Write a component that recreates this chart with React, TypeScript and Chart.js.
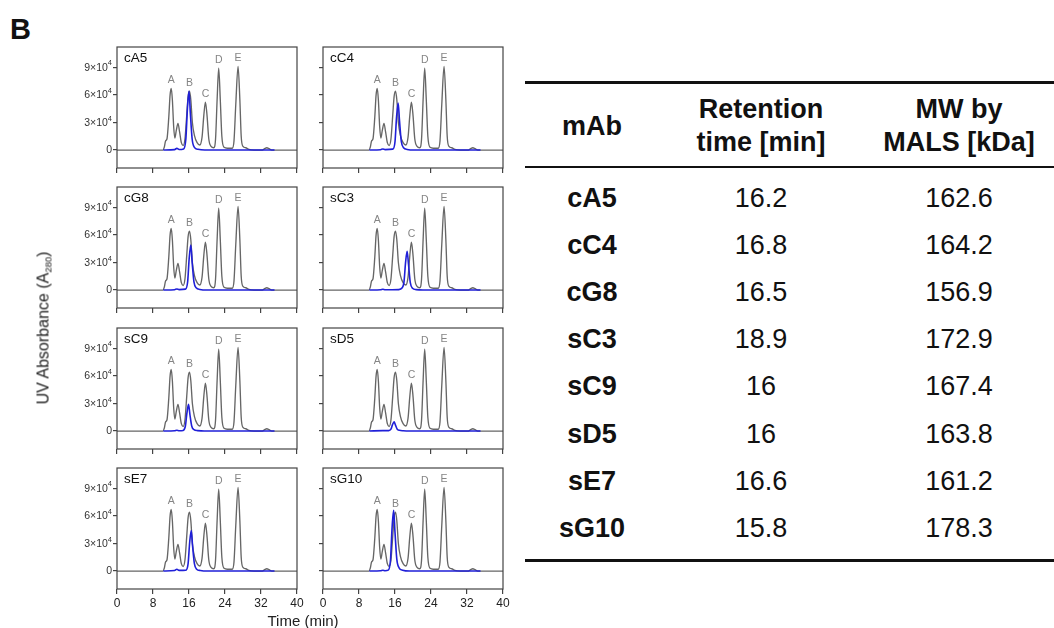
import React, { useEffect, useRef } from 'react';
import { Chart, registerables } from 'chart.js';

Chart.register(...registerables);

const FONT = '"Liberation Sans", Arial, Helvetica, sans-serif';

// ---------- data ----------
const panelNames = ['cA5', 'cC4', 'cG8', 'sC3', 'sC9', 'sD5', 'sE7', 'sG10'];
const retentionTimes = ['16.2', '16.8', '16.5', '18.9', '16', '16', '16.6', '15.8'];
const mwByMals = ['162.6', '164.2', '156.9', '172.9', '167.4', '163.8', '161.2', '178.3'];
const headerLines = [['mAb'], ['Retention', 'time [min]'], ['MW by', 'MALS [kDa]']];

const yTickValues = [0, 30000, 60000, 90000];
const yTickMantissa = ['0', '3×10', '6×10', '9×10'];
const yTickExponent = ['', '4', '4', '4'];

const peakLetters = ['A', 'B', 'C', 'D', 'E'];
const peakTimes = [12.05, 16.1, 19.65, 22.6, 26.9];
const peakHeights = [67000, 64000, 52000, 89000, 91000];

// grey standard trace (min, absorbance)
const standardTime = [0, 10.2, 10.5, 10.8, 11.1, 11.5, 11.8, 12.05, 12.3, 12.6, 12.85, 13.2, 13.55, 13.9, 14.3, 14.7, 15.1, 15.5, 15.8, 16.1, 16.4, 16.75, 17.2, 17.8, 18.4, 18.9, 19.3, 19.65, 20.0, 20.4, 20.9, 21.5, 21.9, 22.25, 22.6, 22.95, 23.3, 23.8, 24.5, 25.6, 26.0, 26.4, 26.9, 27.3, 27.6, 28.0, 28.6, 29.3, 30.5, 32.3, 32.8, 33.3, 33.8, 34.4, 40];
const standardAbs = [0, 0, 3000, 10000, 12000, 35000, 60000, 67000, 55000, 25000, 13000, 22000, 29000, 20000, 8000, 5000, 12000, 38000, 58000, 64000, 55000, 30000, 16000, 8000, 5500, 14000, 38000, 52000, 38000, 12000, 4000, 2500, 12000, 55000, 89000, 55000, 15000, 3000, 2000, 2000, 10000, 50000, 91000, 55000, 15000, 4000, 2500, 800, 0, 0, 1500, 2500, 1500, 0, 0];

// blue mAb traces
const cA5Time = [10.3, 12.8, 13.3, 13.8, 14.8, 15.3, 15.65, 16.0, 16.3, 16.7, 17.2, 18.0, 19.5, 35];
const cA5Abs = [0, 500, 1800, 600, 1200, 12000, 45000, 64000, 40000, 12000, 3000, 800, 0, 0];
const cC4Time = [10.3, 12.8, 13.3, 13.8, 15.5, 16.0, 16.35, 16.7, 17.0, 17.4, 17.9, 18.7, 20.2, 35];
const cC4Abs = [0, 400, 1200, 500, 1000, 9000, 36000, 51000, 32000, 9500, 2500, 700, 0, 0];
const cG8Time = [10.3, 12.8, 13.3, 13.8, 15.2, 15.7, 16.05, 16.4, 16.7, 17.1, 17.6, 18.4, 19.9, 35];
const cG8Abs = [0, 400, 1200, 500, 1000, 9000, 35000, 49000, 30000, 9000, 2400, 700, 0, 0];
const sC3Time = [10.3, 12.8, 13.3, 13.8, 16.8, 17.6, 18.0, 18.35, 18.7, 19.0, 19.4, 19.9, 20.7, 22.2, 35];
const sC3Abs = [0, 300, 800, 300, 500, 2500, 9000, 30000, 42000, 28000, 8000, 2000, 500, 0, 0];
const sC9Time = [10.3, 12.8, 13.3, 13.8, 14.7, 15.2, 15.55, 15.9, 16.2, 16.6, 17.1, 17.9, 19.4, 35];
const sC9Abs = [0, 300, 900, 400, 700, 5500, 20000, 29000, 18000, 5500, 1500, 500, 0, 0];
const sD5Time = [10.3, 13.3, 14.6, 15.1, 15.45, 15.8, 16.1, 16.5, 17.0, 17.8, 19.3, 35];
const sD5Abs = [0, 500, 500, 2000, 7000, 10000, 6500, 2000, 800, 300, 0, 0];
const sE7Time = [10.3, 12.8, 13.3, 13.8, 15.3, 15.8, 16.15, 16.5, 16.8, 17.2, 17.7, 18.5, 20, 35];
const sE7Abs = [0, 600, 2000, 700, 900, 8000, 31000, 44000, 27000, 8000, 2000, 600, 0, 0];
const sG10Time = [10.3, 12.8, 13.3, 13.8, 14.5, 15.0, 15.35, 15.7, 16.0, 16.4, 16.9, 17.7, 19.2, 35];
const sG10Abs = [0, 300, 900, 400, 1000, 12000, 47000, 66000, 42000, 13000, 3500, 900, 0, 0];

const blueTimes = [cA5Time, cC4Time, cG8Time, sC3Time, sC9Time, sD5Time, sE7Time, sG10Time];
const blueAbs = [cA5Abs, cC4Abs, cG8Abs, sC3Abs, sC9Abs, sD5Abs, sE7Abs, sG10Abs];

// ---------- layout ----------
const FRAME_W = 180;
const FRAME_H = 121;
const FRAME_LEFT = [117, 323];
const FRAME_TOP = [47, 187, 328, 468];
const PAD_T = 8;
const PAD_R = 10;
const Y_W = [72, 12];

function Panel({ index }: { index: number }) {
  const ref = useRef<HTMLCanvasElement | null>(null);
  const row = Math.floor(index / 2);
  const col = index % 2;
  const isBottom = row === 3;
  const xH = isBottom ? 30 : 8;
  const yW = Y_W[col];
  const width = yW + FRAME_W + PAD_R;
  const height = PAD_T + FRAME_H + xH;
  const left = FRAME_LEFT[col] - yW;
  const top = FRAME_TOP[row] - PAD_T;

  useEffect(() => {
    if (!ref.current) return;
    const name = panelNames[index];
    const overlay = {
      id: 'overlay' + index,
      afterDatasetsDraw(chart: any) {
        const { ctx, chartArea: a, scales } = chart;
        ctx.save();
        ctx.strokeStyle = '#444';
        ctx.lineWidth = 1.2;
        ctx.strokeRect(a.left, a.top, a.right - a.left, a.bottom - a.top);
        // peak letters
        ctx.fillStyle = '#858585';
        ctx.font = `10.5px ${FONT}`;
        ctx.textAlign = 'center';
        ctx.textBaseline = 'alphabetic';
        peakLetters.forEach((L, i) => {
          const px = scales.x.getPixelForValue(peakTimes[i]);
          const py = scales.y.getPixelForValue(peakHeights[i]);
          ctx.fillText(L, px, py - 5);
        });
        // panel name
        ctx.fillStyle = '#111';
        ctx.font = `13.5px ${FONT}`;
        ctx.textAlign = 'left';
        ctx.textBaseline = 'middle';
        ctx.fillText(name, a.left + 7, a.top + 11);
        // y tick labels with superscripts (left column only)
        if (col === 0) {
          ctx.fillStyle = '#333';
          yTickValues.forEach((v, i) => {
            const py = scales.y.getPixelForValue(v);
            const xr = a.left - 5;
            ctx.textBaseline = 'middle';
            ctx.textAlign = 'right';
            let expW = 0;
            if (yTickExponent[i]) {
              ctx.font = `7.5px ${FONT}`;
              expW = ctx.measureText(yTickExponent[i]).width;
              ctx.fillText(yTickExponent[i], xr, py - 4);
            }
            ctx.font = `10.5px ${FONT}`;
            ctx.fillText(yTickMantissa[i], xr - expW, py + 0.5);
          });
        }
        ctx.restore();
      },
    };
    const chart = new Chart(ref.current, {
      type: 'line',
      data: {
        datasets: [
          {
            data: blueTimes[index].map((t, i) => ({ x: t, y: blueAbs[index][i] })),
            borderColor: '#1f1fd8',
            borderWidth: 1.6,
            pointRadius: 0,
            cubicInterpolationMode: 'monotone',
            fill: false,
          },
          {
            data: standardTime.map((t, i) => ({ x: t, y: standardAbs[i] })),
            borderColor: '#666',
            borderWidth: 1.35,
            pointRadius: 0,
            cubicInterpolationMode: 'monotone',
            fill: false,
          },
        ],
      },
      options: {
        animation: false,
        responsive: false,
        devicePixelRatio: 1,
        events: [],
        layout: { padding: { top: PAD_T, right: PAD_R, left: 0, bottom: 0 } },
        plugins: { legend: { display: false }, tooltip: { enabled: false } },
        scales: {
          x: {
            type: 'linear',
            min: 0,
            max: 40,
            ticks: {
              stepSize: 8,
              display: isBottom,
              autoSkip: false,
              maxRotation: 0,
              padding: 2,
              color: '#222',
              font: { family: FONT, size: 12 },
            },
            grid: { drawOnChartArea: false, drawTicks: true, tickLength: 5, color: '#444', lineWidth: 1.2 },
            border: { display: false },
            afterFit: (s: any) => {
              s.height = xH;
            },
          },
          y: {
            type: 'linear',
            min: -19500,
            max: 112000,
            afterBuildTicks: (s: any) => {
              s.ticks = yTickValues.map((v) => ({ value: v }));
            },
            ticks: { display: false },
            grid: { drawOnChartArea: false, drawTicks: true, tickLength: 4, color: '#444', lineWidth: 1.2 },
            border: { display: false },
            afterFit: (s: any) => {
              s.width = yW;
            },
          },
        },
      } as any,
      plugins: [overlay],
    });
    return () => chart.destroy();
  }, [index]);

  return (
    <canvas
      ref={ref}
      width={width}
      height={height}
      style={{ position: 'absolute', left, top, width, height }}
    />
  );
}

const COL_X = [592, 761, 959];
const ROW_Y0 = 198;
const ROW_STEP = 47.1;
const TABLE_LEFT = 525;

export default function App() {
  const textBase: React.CSSProperties = {
    position: 'absolute',
    fontFamily: FONT,
    color: '#111',
    whiteSpace: 'nowrap',
    transform: 'translate(-50%, -50%)',
    lineHeight: '33px',
    fontSize: 27,
  };
  return (
    <div style={{ position: 'absolute', left: 0, top: 0, width: 1054, height: 628, background: '#fff', overflow: 'hidden' }}>
      <div style={{ position: 'absolute', left: 10, top: 15, fontFamily: FONT, fontWeight: 'bold', fontSize: 29, lineHeight: '29px', color: '#111' }}>B</div>
      {panelNames.map((_, i) => (
        <Panel key={i} index={i} />
      ))}
      <div
        style={{
          position: 'absolute',
          left: 44,
          top: 328,
          transform: 'translate(-50%, -50%) rotate(-90deg)',
          fontFamily: FONT,
          fontSize: 16,
          color: '#222',
          whiteSpace: 'nowrap',
        }}
      >
        UV Absorbance (A<sub style={{ fontSize: 9.5, verticalAlign: '-3px' }}>280</sub>)
      </div>
      <div
        style={{
          position: 'absolute',
          left: 303,
          top: 620,
          transform: 'translate(-50%, -50%)',
          fontFamily: FONT,
          fontSize: 15,
          color: '#222',
          whiteSpace: 'nowrap',
        }}
      >
        Time (min)
      </div>

      {/* table rules */}
      <div style={{ position: 'absolute', left: TABLE_LEFT, top: 81, width: 1054 - TABLE_LEFT, height: 3, background: '#111' }} />
      <div style={{ position: 'absolute', left: TABLE_LEFT, top: 166, width: 1054 - TABLE_LEFT, height: 2, background: '#111' }} />
      <div style={{ position: 'absolute', left: TABLE_LEFT, top: 559, width: 1054 - TABLE_LEFT, height: 3, background: '#111' }} />

      {headerLines.map((lines, c) => (
        <div key={'h' + c} style={{ ...textBase, left: COL_X[c], top: 126, fontWeight: 'bold', textAlign: 'center' }}>
          {lines.map((l, k) => (
            <div key={k}>{l}</div>
          ))}
        </div>
      ))}
      {panelNames.map((n, r) => (
        <React.Fragment key={'r' + r}>
          <div style={{ ...textBase, left: COL_X[0], top: ROW_Y0 + ROW_STEP * r, fontWeight: 'bold' }}>{n}</div>
          <div style={{ ...textBase, left: COL_X[1], top: ROW_Y0 + ROW_STEP * r }}>{retentionTimes[r]}</div>
          <div style={{ ...textBase, left: COL_X[2], top: ROW_Y0 + ROW_STEP * r }}>{mwByMals[r]}</div>
        </React.Fragment>
      ))}
    </div>
  );
}
